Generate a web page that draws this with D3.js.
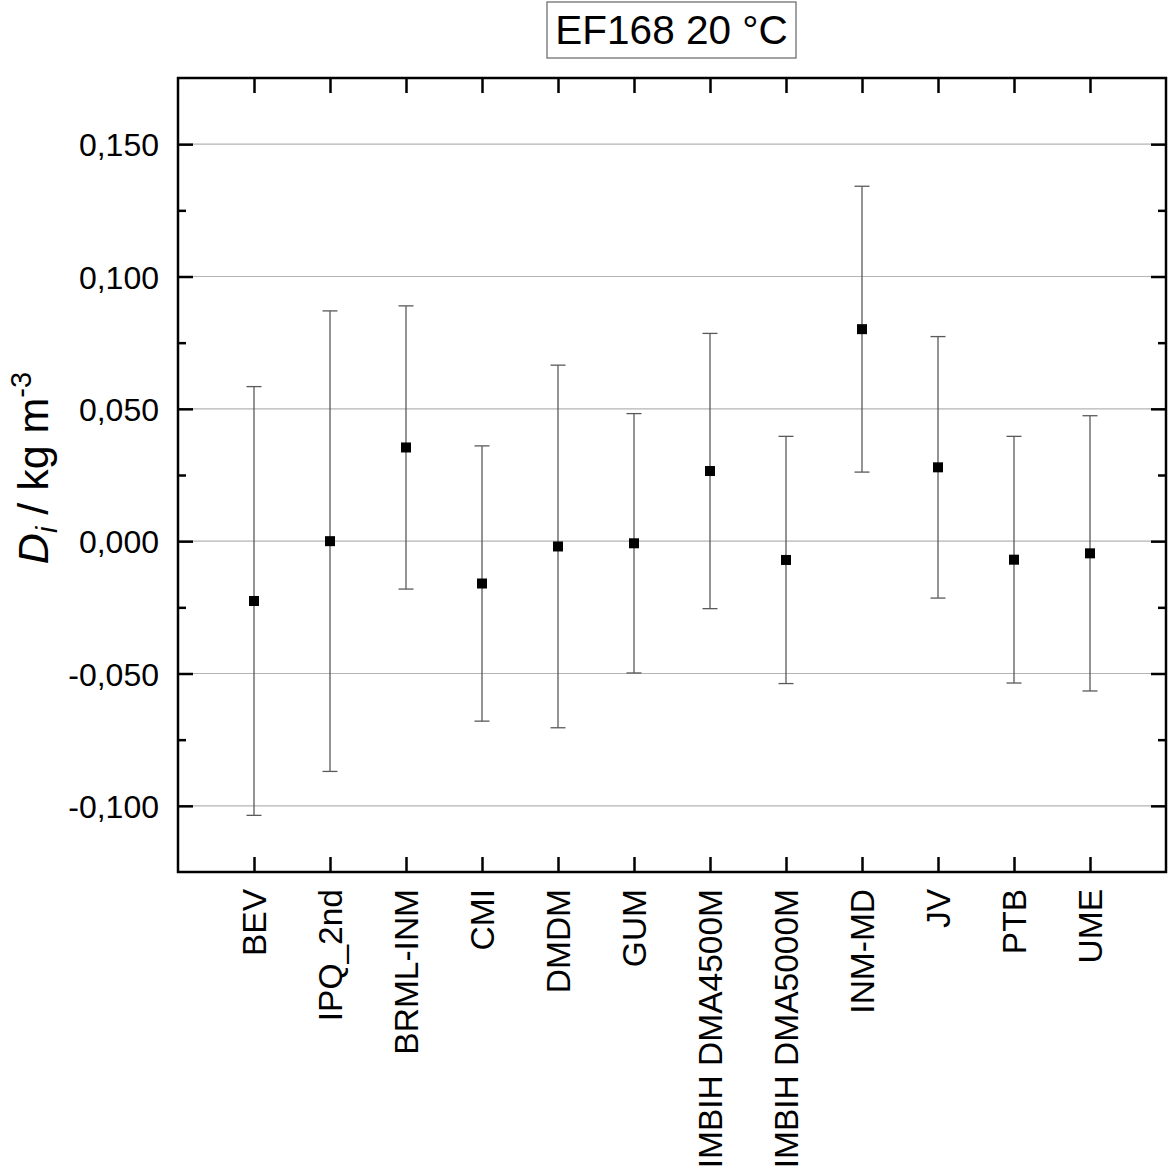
<!DOCTYPE html>
<html><head><meta charset="utf-8">
<script src="https://cdn.jsdelivr.net/npm/d3@7"></script>
<style>body{margin:0;background:#fff}text{font-family:"Liberation Sans",Arial,sans-serif}</style>
</head><body>
<svg id="c" width="1169" height="1169"></svg>
<script>
const categories = ["BEV","IPQ_2nd","BRML-INM","CMI","DMDM","GUM","IMBIH DMA4500M","IMBIH DMA5000M","INM-MD","JV","PTB","UME"];
const values = [-0.0226, 0.0000, 0.0354, -0.0160, -0.0020, -0.0008, 0.0265, -0.0071, 0.0801, 0.0279, -0.0070, -0.0046];
const uncertainties = [0.0810, 0.0870, 0.0535, 0.0520, 0.0685, 0.0490, 0.0520, 0.0467, 0.0540, 0.0494, 0.0466, 0.0520];
const yTicks = [-0.100, -0.050, 0.000, 0.050, 0.100, 0.150];
const yMinorTicks = [-0.075, -0.025, 0.025, 0.075, 0.125];
const yDomain = [-0.125, 0.175];
const titleText = "EF168 20 °C";

const svg = d3.select("#c");
const L = 178, R = 1166, T = 78, B = 872;
const x = d3.scalePoint().domain(categories).range([L, R]).padding(1);
const y = d3.scaleLinear().domain(yDomain).range([B, T]);
const loc = d3.formatLocale({decimal: ",", thousands: ".", grouping: [3], currency: ["", ""], minus: "-"});
const fmt = loc.format(".3f");

// grid
svg.append("g").selectAll("line").data(yTicks).join("line")
  .attr("x1", L).attr("x2", R).attr("y1", d => y(d)).attr("y2", d => y(d))
  .attr("stroke", "#b4b4b4").attr("stroke-width", 1.2);

function styleAxis(g) {
  g.select(".domain").remove();
  g.selectAll(".tick line").attr("stroke", "#000").attr("stroke-width", 2.5);
}

// left axis
svg.append("g").attr("transform", `translate(${L},0)`)
  .call(d3.axisLeft(y).tickValues(yTicks).tickSize(-15).tickPadding(19).tickFormat(fmt))
  .call(styleAxis)
  .call(g => g.selectAll("text").attr("font-size", 32).attr("fill", "#000")
    .attr("font-family", "'Liberation Sans',Arial,sans-serif").attr("dy", "0.36em"));
svg.append("g").attr("transform", `translate(${L},0)`)
  .call(d3.axisLeft(y).tickValues(yMinorTicks).tickSize(-8).tickFormat(""))
  .call(styleAxis);
// right axis
svg.append("g").attr("transform", `translate(${R},0)`)
  .call(d3.axisRight(y).tickValues(yTicks).tickSize(-15).tickFormat(""))
  .call(styleAxis);
svg.append("g").attr("transform", `translate(${R},0)`)
  .call(d3.axisRight(y).tickValues(yMinorTicks).tickSize(-8).tickFormat(""))
  .call(styleAxis);
// top axis
svg.append("g").attr("transform", `translate(0,${T})`)
  .call(d3.axisTop(x).tickSize(-15).tickFormat(""))
  .call(styleAxis);
// bottom axis
svg.append("g").attr("transform", `translate(0,${B})`)
  .call(d3.axisBottom(x).tickSize(-15))
  .call(styleAxis)
  .call(g => g.selectAll("text")
    .attr("x", 0).attr("y", 0).attr("dy", null)
    .attr("transform", "translate(0,17) rotate(-90)")
    .attr("text-anchor", "end").attr("dominant-baseline", "central")
    .attr("font-size", 33.5).attr("fill", "#000")
    .attr("font-family", "'Liberation Sans',Arial,sans-serif"));

// frame
svg.append("rect").attr("x", L).attr("y", T).attr("width", R - L).attr("height", B - T)
  .attr("fill", "none").attr("stroke", "#000").attr("stroke-width", 2.5);

// error bars
const data = categories.map((c, i) => ({c, v: values[i], u: uncertainties[i]}));
const eb = svg.append("g").attr("stroke", "#5a5a5a").attr("stroke-width", 1.3);
eb.selectAll("line.v").data(data).join("line").attr("class", "v")
  .attr("x1", d => x(d.c)).attr("x2", d => x(d.c))
  .attr("y1", d => y(d.v + d.u)).attr("y2", d => y(d.v - d.u));
eb.selectAll("line.t").data(data).join("line").attr("class", "t")
  .attr("x1", d => x(d.c) - 7.5).attr("x2", d => x(d.c) + 7.5)
  .attr("y1", d => y(d.v + d.u)).attr("y2", d => y(d.v + d.u));
eb.selectAll("line.b").data(data).join("line").attr("class", "b")
  .attr("x1", d => x(d.c) - 7.5).attr("x2", d => x(d.c) + 7.5)
  .attr("y1", d => y(d.v - d.u)).attr("y2", d => y(d.v - d.u));
svg.append("g").selectAll("rect").data(data).join("rect")
  .attr("x", d => x(d.c) - 5).attr("y", d => y(d.v) - 5)
  .attr("width", 10).attr("height", 10).attr("fill", "#000");

// y title
const yt = svg.append("text").attr("transform", "translate(48,468) rotate(-90)")
  .attr("text-anchor", "middle").attr("font-size", 43).attr("fill", "#000");
yt.append("tspan").attr("font-style", "italic").text("D");
yt.append("tspan").attr("font-style", "italic").attr("font-size", 29).attr("dy", 9).text("i");
yt.append("tspan").attr("dy", -9).text(" / kg m");
yt.append("tspan").attr("font-size", 29).attr("dy", -17).text("-3");

// title box
svg.append("rect").attr("x", 547).attr("y", 2).attr("width", 249).attr("height", 56)
  .attr("fill", "#fff").attr("stroke", "#707070").attr("stroke-width", 1.3);
svg.append("text").attr("x", 671.5).attr("y", 44).attr("text-anchor", "middle")
  .attr("font-size", 40.5).attr("fill", "#000").text(titleText);
</script>
</body></html>
